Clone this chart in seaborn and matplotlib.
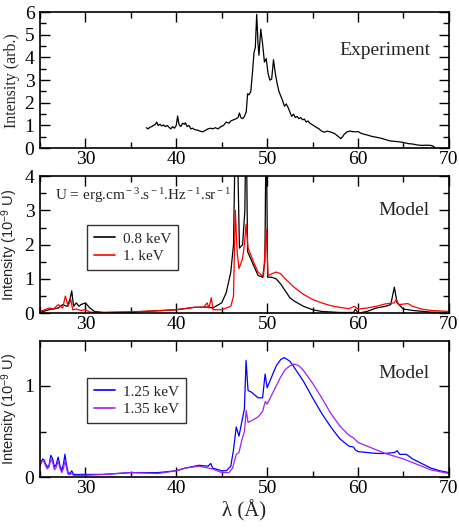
import matplotlib
matplotlib.use("Agg")
import matplotlib.pyplot as plt
import seaborn as sns
import pandas as pd
from matplotlib.ticker import MultipleLocator

# ---------------- data ----------------
exp_x = [36.7, 36.9, 37.1, 37.3, 37.5, 37.7, 37.85, 38.0, 38.2, 38.4, 38.6, 38.8, 39.0, 39.2, 39.4,
         39.6, 39.8, 40.0, 40.15, 40.3, 40.5, 40.7, 40.9, 41.0, 41.2, 41.4, 41.6, 41.8, 42.0, 42.3,
         42.6, 42.9, 43.2, 43.5, 43.8, 44.0, 44.3, 44.6, 44.9, 45.2, 45.5, 45.8, 46.0, 46.3, 46.6,
         46.8, 46.95, 47.1, 47.3, 47.5, 47.7, 47.85, 48.0, 48.2, 48.4, 48.55, 48.7, 48.85, 49.0, 49.1,
         49.3, 49.5, 49.7, 49.9, 50.1, 50.3, 50.5, 50.7, 50.9, 51.1, 51.3, 51.5, 51.7, 51.9, 52.1,
         52.3, 52.5, 52.7, 52.9, 53.1, 53.3, 53.5, 53.7, 53.9, 54.1, 54.3, 54.5, 54.7, 54.9, 55.1,
         55.4, 55.7, 56.0, 56.3, 56.6, 56.9, 57.2, 57.5, 57.8, 58.1, 58.3, 58.5, 58.8, 59.1, 59.4,
         59.7, 60.0, 60.3, 60.6, 61.0, 61.5, 62.0, 62.5, 63.0, 63.5, 64.0, 64.5, 65.0, 65.5, 66.0,
         66.5, 67.0, 67.5, 68.0, 68.3, 68.5]
exp_y = [0.90, 0.85, 0.92, 0.95, 1.00, 1.05, 1.15, 1.00, 1.05, 0.98, 1.02, 0.95, 1.00, 0.92, 0.85,
         0.95, 0.88, 1.00, 1.42, 1.05, 0.95, 1.10, 1.05, 1.12, 0.95, 1.00, 0.85, 0.88, 0.82, 0.80,
         0.75, 0.72, 0.78, 0.85, 0.88, 0.85, 0.90, 0.85, 0.95, 1.00, 1.15, 1.10, 1.20, 1.25, 1.30,
         1.35, 1.55, 1.35, 1.30, 1.40, 1.60, 2.40, 2.35, 2.50, 3.40, 4.20, 4.45, 5.90, 4.60, 4.10,
         5.25, 4.60, 3.80, 3.95, 3.30, 3.00, 3.05, 3.90, 3.30, 2.85, 2.50, 2.30, 2.10, 1.85, 1.95,
         1.80, 1.60, 1.40, 1.50, 1.35, 1.40, 1.30, 1.35, 1.25, 1.28, 1.15, 1.20, 1.10, 1.05, 1.00,
         0.92, 0.85, 0.75, 0.70, 0.75, 0.72, 0.68, 0.62, 0.52, 0.42, 0.50, 0.62, 0.72, 0.75, 0.73,
         0.72, 0.73, 0.66, 0.62, 0.58, 0.52, 0.48, 0.44, 0.38, 0.32, 0.30, 0.28, 0.25, 0.20, 0.18,
         0.14, 0.12, 0.13, 0.12, 0.08, 0.00]

m08_x = [25.0, 26.0, 27.0, 27.5, 28.0, 28.3, 28.5, 28.7, 29.0, 29.3, 29.5, 30.0, 30.5, 31.0, 32.0,
         35.0, 40.0, 42.0, 43.5, 44.0, 45.0, 45.5, 46.0, 46.3, 46.45, 46.6, 46.8, 46.95, 47.3, 47.55,
         47.68, 47.85, 48.5, 49.0, 49.5, 49.75, 49.9, 50.05, 50.5, 51.0, 51.5, 52.0, 52.5, 53.0, 54.0,
         55.0, 56.0, 58.0, 59.5, 59.7, 60.0, 61.0, 62.0, 63.0, 63.6, 64.0, 64.3, 65.0, 65.5, 66.0,
         68.0, 70.0]
m08_y = [0.02, 0.10, 0.15, 0.25, 0.20, 0.40, 0.65, 0.20, 0.30, 0.20, 0.25, 0.30, 0.15, 0.05, 0.02,
         0.03, 0.10, 0.17, 0.18, 0.15, 0.30, 0.60, 1.20, 2.00, 4.50, 6.00, 4.00, 1.90, 2.00, 3.00,
         6.00, 1.80, 1.40, 1.10, 1.05, 1.50, 6.00, 1.05, 1.05, 1.00, 0.85, 0.65, 0.45, 0.35, 0.20,
         0.10, 0.05, 0.02, 0.02, 0.12, 0.00, 0.05, 0.15, 0.20, 0.25, 0.76, 0.30, 0.12, 0.10, 0.08,
         0.03, 0.02]

m10_x = [25.0, 25.5, 26.0, 26.5, 27.0, 27.5, 27.8, 28.1, 28.4, 28.6, 29.0, 29.5, 30.0, 30.5, 32.0,
         35.0, 38.0, 40.0, 42.0, 43.0, 43.4, 43.6, 43.85, 44.05, 45.0, 46.0, 46.3, 46.5, 46.7, 46.9,
         47.3, 47.5, 47.68, 47.9, 48.5, 49.0, 49.6, 49.9, 50.1, 50.5, 51.0, 51.5, 52.0, 53.0, 54.0,
         55.0, 56.0, 57.0, 58.0, 59.0, 59.6, 60.0, 61.0, 62.0, 63.0, 64.0, 64.2, 64.5, 65.5, 66.0,
         67.0, 68.0, 70.0]
m10_y = [0.05, 0.10, 0.15, 0.12, 0.25, 0.15, 0.50, 0.20, 0.40, 0.10, 0.12, 0.08, 0.10, 0.03, 0.02,
         0.04, 0.07, 0.10, 0.17, 0.17, 0.30, 0.15, 0.45, 0.10, 0.10, 0.20, 0.50, 3.00, 1.80, 1.30,
         1.60, 2.00, 2.60, 1.90, 1.50, 1.20, 1.05, 2.45, 1.10, 1.15, 1.20, 1.15, 1.00, 0.75, 0.55,
         0.40, 0.30, 0.22, 0.17, 0.13, 0.20, 0.12, 0.15, 0.20, 0.27, 0.30, 0.40, 0.25, 0.28, 0.20,
         0.12, 0.08, 0.05]

m125_x = [25.0, 25.15, 25.3, 25.45, 25.6, 25.8, 26.0, 26.2, 26.4, 26.6, 26.8, 27.0, 27.2, 27.4,
          27.6, 27.75, 27.9, 28.1, 28.3, 28.5, 28.7, 29.0, 30.0, 32.0, 35.0,
          38.0, 40.0, 41.0, 42.5, 43.5, 43.8, 44.0, 45.0, 45.5, 46.0, 46.3, 46.6, 46.9, 47.2, 47.5,
          47.68, 47.9, 48.3, 49.0, 49.5, 49.78, 50.0, 50.5, 51.0, 51.5, 51.9, 52.5, 53.0, 54.0, 55.0,
          56.0, 57.0, 58.0, 59.0, 59.5, 59.7, 60.0, 61.0, 62.0, 63.0, 64.0, 64.3, 64.6, 65.3, 65.6,
          66.0, 67.0, 68.0, 69.0, 70.0]
m125_y = [0.12, 0.17, 0.20, 0.19, 0.15, 0.11, 0.13, 0.24, 0.20, 0.11, 0.14, 0.22, 0.13, 0.07,
          0.15, 0.25, 0.15, 0.05, 0.04, 0.07, 0.03, 0.03, 0.03, 0.03, 0.05,
          0.05, 0.07, 0.10, 0.13, 0.12, 0.15, 0.10, 0.07, 0.07, 0.12, 0.30, 0.55, 0.45, 0.60, 0.75,
          1.28, 0.95, 0.93, 0.87, 0.87, 1.13, 0.98, 1.10, 1.22, 1.29, 1.31, 1.27, 1.20, 1.05, 0.87,
          0.70, 0.55, 0.42, 0.34, 0.33, 0.30, 0.28, 0.27, 0.26, 0.26, 0.27, 0.29, 0.25, 0.25, 0.23,
          0.20, 0.15, 0.10, 0.07, 0.05]

m135_x = [25.0, 25.15, 25.3, 25.45, 25.6, 25.8, 26.0, 26.2, 26.4, 26.6, 26.8, 27.0, 27.2, 27.4,
          27.6, 27.75, 27.9, 28.1, 28.3, 28.5, 28.7, 29.0, 30.0, 32.0, 35.0,
          38.0, 40.0, 41.0, 42.5, 44.0, 45.0, 45.8, 46.2, 46.6, 46.9, 47.2, 47.5, 47.7, 47.9, 48.5,
          49.0, 49.5, 49.8, 50.0, 50.5, 51.0, 51.5, 52.0, 52.5, 53.0, 53.5, 54.0, 55.0, 56.0, 57.0,
          58.0, 59.0, 59.5, 60.0, 61.0, 62.0, 63.0, 64.0, 65.0, 66.0, 67.0, 68.0, 69.0, 70.0]
m135_y = [0.12, 0.16, 0.18, 0.17, 0.13, 0.09, 0.11, 0.20, 0.16, 0.08, 0.11, 0.18, 0.10, 0.05,
          0.10, 0.18, 0.11, 0.03, 0.03, 0.04, 0.02, 0.02, 0.02, 0.03, 0.05,
          0.04, 0.07, 0.10, 0.12, 0.09, 0.05, 0.05, 0.10, 0.25, 0.27, 0.40, 0.50, 0.73, 0.60, 0.63,
          0.66, 0.72, 0.83, 0.80, 0.90, 1.00, 1.10, 1.18, 1.22, 1.24, 1.22, 1.17, 1.03, 0.87, 0.70,
          0.56, 0.46, 0.43, 0.38, 0.34, 0.30, 0.26, 0.23, 0.20, 0.16, 0.12, 0.08, 0.06, 0.04]

x_ticks = [30, 40, 50, 60, 70]

# ---------------- style ----------------
sns.set_theme(style="ticks")
plt.rcParams['font.family'] = ['Liberation Serif', 'DejaVu Serif']
plt.rcParams['mathtext.fontset'] = 'custom'
plt.rcParams['mathtext.rm'] = 'Liberation Serif'
plt.rcParams['mathtext.it'] = 'Liberation Serif:italic'
plt.rcParams['mathtext.sf'] = 'Liberation Sans'

fig = plt.figure(figsize=(4.59, 5.29), dpi=100)
ax1 = fig.add_axes([0.087, 0.720, 0.891, 0.257])
ax2 = fig.add_axes([0.087, 0.408, 0.891, 0.259])
ax3 = fig.add_axes([0.087, 0.098, 0.891, 0.257])

lw = 0.9
sns.lineplot(x=exp_x, y=exp_y, ax=ax1, color="black", lw=lw, sort=False)

df2 = pd.concat([
    pd.DataFrame({"x": m08_x, "y": m08_y, "s": "0.8 keV"}),
    pd.DataFrame({"x": m10_x, "y": m10_y, "s": "1. keV"}),
])
sns.lineplot(data=df2, x="x", y="y", hue="s", ax=ax2, palette=["black", "#ff0000"], lw=lw, sort=False)

df3 = pd.concat([
    pd.DataFrame({"x": m125_x, "y": m125_y, "s": "1.25 keV"}),
    pd.DataFrame({"x": m135_x, "y": m135_y, "s": "1.35 keV"}),
])
sns.lineplot(data=df3, x="x", y="y", hue="s", ax=ax3, palette=["#0000ff", "#a020f0"], lw=lw, sort=False)

for ax in (ax1, ax2, ax3):
    ax.set_xlim(25, 70)
    ax.set_xticks(x_ticks)
    ax.xaxis.set_minor_locator(MultipleLocator(5))
    ax.tick_params(which="both", direction="in", top=True, right=True, width=1.0, colors="black")
    ax.tick_params(which="major", length=7, labelsize=14)
    ax.tick_params(axis="x", which="major", pad=2)
    ax.tick_params(axis="y", which="major", pad=4)
    ax.tick_params(which="minor", length=4)
    for sp in ax.spines.values():
        sp.set_linewidth(1.2)
        sp.set_color("black")
    ax.set_xlabel("")

ax1.set_ylim(0, 6)
ax1.yaxis.set_major_locator(MultipleLocator(1))
ax1.yaxis.set_minor_locator(MultipleLocator(0.5))
ax1.set_ylabel("Intensity (arb.)", fontsize=11.5)
ax1.text(0.843, 0.72, "Experiment", transform=ax1.transAxes, ha="center", va="center", fontsize=14)

ax2.set_ylim(0, 4)
ax2.yaxis.set_major_locator(MultipleLocator(1))
ax2.yaxis.set_minor_locator(MultipleLocator(0.5))
ax2.set_ylabel(r"Intensity (10$^{\mathsf{-9}}$ U)", fontsize=10.5, family="Liberation Sans")
ax2.text(0.89, 0.75, "Model", transform=ax2.transAxes, ha="center", va="center", fontsize=14)
ax2.text(0.038, 0.86, r"U = erg.cm$^{\rm -3}$.s$^{\rm -1}$.Hz$^{\rm -1}$.sr$^{\rm -1}$",
         transform=ax2.transAxes, ha="left", va="center", fontsize=11)

ax3.set_ylim(0, 1.49)
ax3.yaxis.set_major_locator(MultipleLocator(1))
ax3.yaxis.set_minor_locator(MultipleLocator(0.5))
ax3.set_ylabel(r"Intensity (10$^{\mathsf{-9}}$ U)", fontsize=10.5, family="Liberation Sans")
ax3.text(0.89, 0.765, "Model", transform=ax3.transAxes, ha="center", va="center", fontsize=14)
ax3.set_xlabel("λ (Å)", fontsize=15, labelpad=2)

for ax in (ax1, ax2, ax3):
    ax.yaxis.set_label_coords(-0.048, 0.5)

for ax, loc in ((ax2, (0.115, 0.314)), (ax3, (0.115, 0.397))):
    leg = ax.legend(loc="lower left", bbox_to_anchor=loc, fontsize=11, frameon=True, fancybox=False,
                    handlelength=1.4, handletextpad=0.5, borderpad=0.45, labelspacing=0.25,
                    borderaxespad=0)
    leg.set_title(None)
    leg.get_frame().set_edgecolor("black")
    leg.get_frame().set_linewidth(1.0)
    for h in leg.get_lines():
        h.set_linewidth(1.2)

fig.savefig("out.png", dpi=100)
